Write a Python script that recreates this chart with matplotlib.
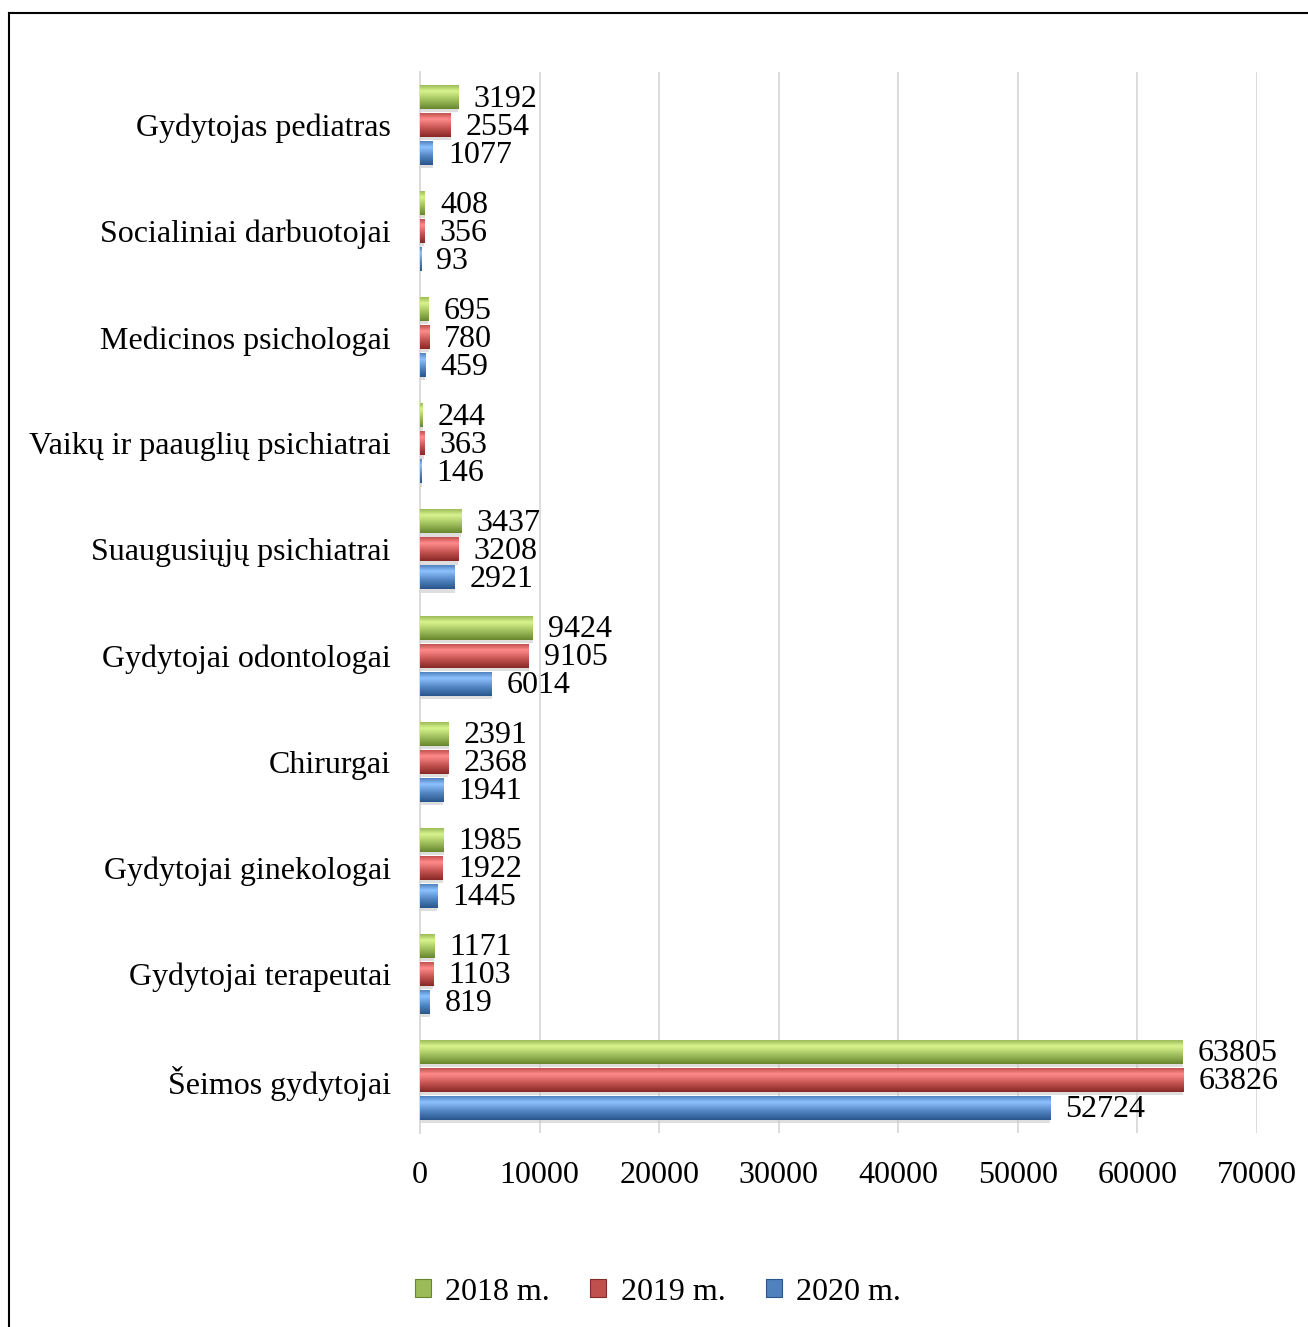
import matplotlib
matplotlib.use("Agg")
import matplotlib.pyplot as plt
import numpy as np
from matplotlib.colors import LinearSegmentedColormap
from matplotlib.patches import Rectangle
from matplotlib.lines import Line2D

categories = ["Šeimos gydytojai", "Gydytojai terapeutai", "Gydytojai ginekologai",
              "Chirurgai", "Gydytojai odontologai", "Suaugusiųjų psichiatrai",
              "Vaikų ir paauglių psichiatrai", "Medicinos psichologai",
              "Socialiniai darbuotojai", "Gydytojas pediatras"]
v2018 = [63805, 1171, 1985, 2391, 9424, 3437, 244, 695, 408, 3192]
v2019 = [63826, 1103, 1922, 2368, 9105, 3208, 363, 780, 356, 2554]
v2020 = [52724, 819, 1445, 1941, 6014, 2921, 146, 459, 93, 1077]
series_names = ["2018 m.", "2019 m.", "2020 m."]
xticks = [0, 10000, 20000, 30000, 40000, 50000, 60000, 70000]

plt.rcParams['font.family'] = ['Liberation Serif', 'DejaVu Serif']
FS = 23

fig = plt.figure(figsize=(13.08, 13.27), dpi=100)
ax = fig.add_axes([420/1308, 1-1133/1327, 837/1308, (1133-72)/1327])

palettes = [
    ("#d8f48e", "#9bbb59", "#66852e"),
    ("#ff8c8a", "#c0504d", "#862826"),
    ("#8ec2ff", "#4f81bd", "#28568c"),
]
offsets = [0.264, 0.0, -0.264]
h = 0.226
y = np.arange(len(categories))

for vals, off, pal, name in zip([v2018, v2019, v2020], offsets, palettes, series_names):
    cmap = LinearSegmentedColormap.from_list(
        "g", [(0.0, pal[2]), (0.35, pal[1]), (0.75, pal[0]), (1.0, pal[1])])
    # shadow
    ax.barh(y + off - 0.03, vals, height=h, left=0, color="#c8c8c8", alpha=0.6, zorder=2)
    bars = ax.barh(y + off, vals, height=h, color=pal[1], zorder=3, label=name)
    for b in bars:
        x0, y0, w, hh = b.get_x(), b.get_y(), b.get_width(), b.get_height()
        if w <= 0:
            continue
        grad = np.linspace(0, 1, 256).reshape(-1, 1)
        im = ax.imshow(grad, cmap=cmap, aspect="auto", origin="lower",
                       extent=[x0, x0 + w, y0, y0 + hh], zorder=4, interpolation="bilinear")
        im.set_clip_path(b)
        b.set_facecolor("none")
        b.set_edgecolor("none")
    for b, v in zip(bars, vals):
        ax.annotate(str(v), (b.get_width(), b.get_y() + b.get_height()/2),
                    xytext=(15, -2), textcoords="offset pixels",
                    va="center", ha="left", fontsize=FS, zorder=5)

ax.set_xlim(0, 70000)
ax.set_ylim(-0.5, len(categories) - 0.5)
ax.set_xticks(xticks)
ax.set_xticklabels([str(t) for t in xticks], fontsize=FS)
ax.set_yticks(y)
ax.set_yticklabels(categories, fontsize=FS)
ax.tick_params(axis="both", length=0)
ax.tick_params(axis="x", pad=20)
ax.tick_params(axis="y", pad=21)
ax.grid(axis="x", color="#d9d9d9", linewidth=1.3, zorder=0)
ax.set_axisbelow(True)
for s in ["top", "right", "bottom"]:
    ax.spines[s].set_visible(False)
ax.spines["left"].set_color("#d9d9d9")
ax.spines["left"].set_linewidth(1.3)

handles = [Rectangle((0, 0), 1, 1, facecolor=p[1], edgecolor=p[2], linewidth=0.8) for p in palettes]
leg = fig.legend(handles, series_names, loc="center", bbox_to_anchor=(0.503, 1-1292/1327),
                 ncol=3, frameon=False, fontsize=FS, handlelength=0.5, handleheight=0.5,
                 handletextpad=0.45, columnspacing=1.26)

fig.add_artist(Line2D([9/1308, 9/1308], [0, 1-13/1327], color="black", linewidth=1.5, transform=fig.transFigure))
fig.add_artist(Line2D([9/1308, 1.0], [1-13/1327, 1-13/1327], color="black", linewidth=1.5, transform=fig.transFigure))

fig.savefig("out.png", dpi=100)
